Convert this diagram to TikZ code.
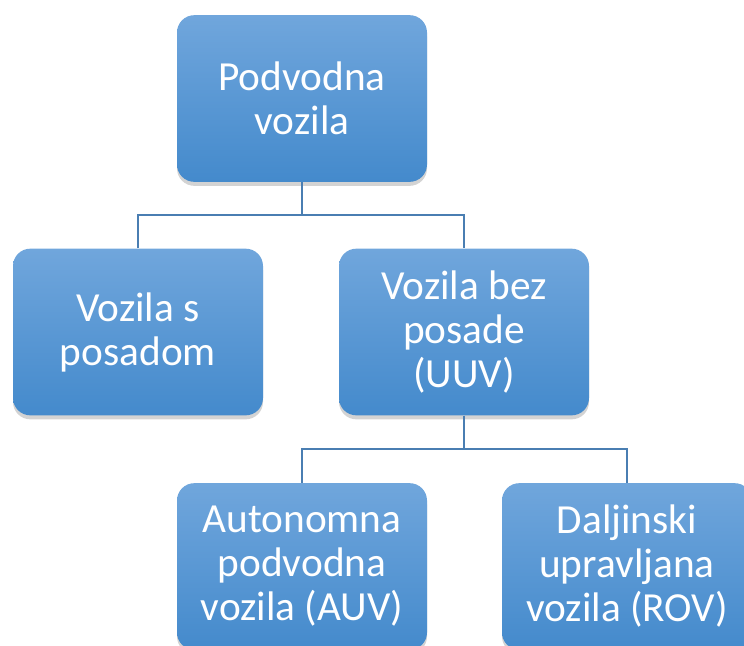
\documentclass[tikz,border=0pt]{standalone}
\usepackage{fontspec}
\setmainfont{Carlito}
\usetikzlibrary{shadows}

\definecolor{boxtop}{RGB}{112,166,220}
\definecolor{boxbot}{RGB}{68,138,204}
\definecolor{linecol}{RGB}{74,126,178}

\begin{document}
\begin{tikzpicture}[x=0.75pt,y=0.75pt,yscale=-1,xscale=1,
  vbox/.style={rectangle, rounded corners=13pt, top color=boxtop, bottom color=boxbot,
    draw=none, minimum width=187.5pt, minimum height=125pt, text=white,
    align=center, font=\fontsize{31}{33}\selectfont,
    drop shadow={opacity=0.35, shadow xshift=0pt, shadow yshift=-3pt}},
  conn/.style={draw=linecol, line width=2.1pt}]
%set diagram size
\useasboundingbox (0,0) rectangle (744,646);
\clip (0,0) rectangle (744,646);

%Boxes
\node[vbox] (podvodna) at (302,98.5) {Podvodna\\vozila};
\node[vbox] (sposadom) at (138,332) {Vozila s\\posadom};
\node[vbox] (uuv) at (464,332) {Vozila bez\\posade\\(UUV)};
\node[vbox] (auv) at (302,566.5) {Autonomna\\podvodna\\vozila (AUV)};
\node[vbox] (rov) at (627,566.5) {Daljinski\\upravljana\\vozila (ROV)};

%Junctions
\coordinate (j1) at (302,215);
\coordinate (j2) at (464,449);

%Connectors
\draw[conn] (podvodna.south) -- (j1);
\draw[conn] (sposadom.north) |- (j1) -| (uuv.north);
\draw[conn] (uuv.south) -- (j2);
\draw[conn] (auv.north) |- (j2) -| (rov.north);

\end{tikzpicture}
\end{document}
